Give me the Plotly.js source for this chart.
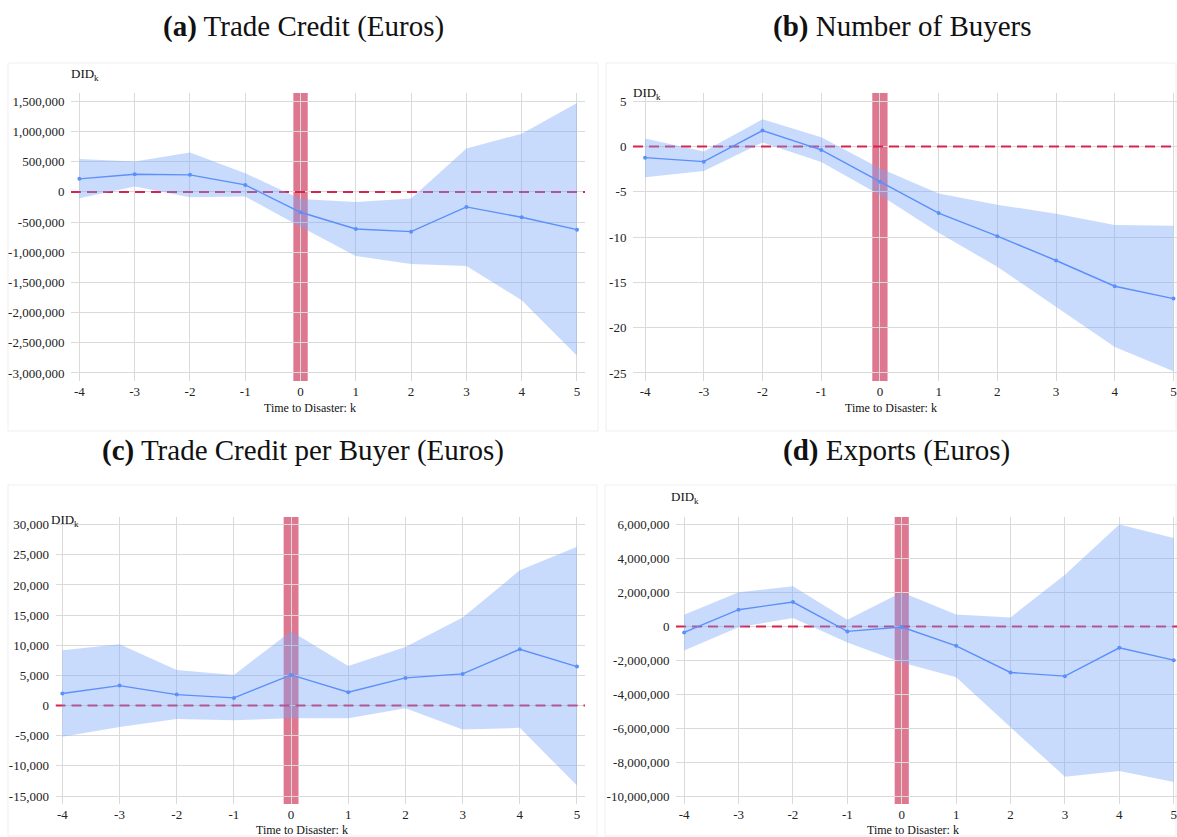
<!DOCTYPE html>
<html>
<head>
<meta charset="utf-8">
<script src="https://cdn.plot.ly/plotly-3.0.1.min.js"></script>
<style>html,body{margin:0;padding:0;background:#fff;}#chart{width:1177px;height:837px;}</style>
</head>
<body>
<div id="chart"></div>
<script>
// Event time
const k = [-4, -3, -2, -1, 0, 1, 2, 3, 4, 5];

// (a) Trade Credit (Euros)
const tcEst = [216000, 293000, 282000, 116000, -338000, -615000, -659000, -249000, -421000, -626000];
const tcLo  = [-105000, 89000, -89000, -78000, -576000, -1063000, -1196000, -1229000, -1794000, -2713000];
const tcHi  = [543000, 504000, 653000, 310000, -116000, -166000, -111000, 720000, 963000, 1473000];

// (b) Number of Buyers
const nbEst = [-1.22, -1.66, 1.77, -0.37, -3.87, -7.34, -9.89, -12.58, -15.42, -16.79];
const nbLo  = [-3.39, -2.69, 0.44, -1.70, -5.35, -9.52, -13.28, -17.71, -22.14, -24.80];
const nbHi  = [0.89, -0.55, 3.03, 1.03, -2.40, -5.17, -6.42, -7.42, -8.67, -8.75];

// (c) Trade Credit per Buyer (Euros)
const tcbEst = [1990, 3310, 1820, 1270, 5080, 2210, 4590, 5250, 9340, 6460];
const tcbLo  = [-5190, -3540, -2210, -2430, -2100, -2100, -440, -3980, -3700, -13260];
const tcbHi  = [9170, 10170, 5910, 5080, 12320, 6580, 9720, 14590, 22430, 26350];

// (d) Exports (Euros)
const exEst = [-354000, 984000, 1437000, -295000, -39000, -1142000, -2717000, -2933000, -1260000, -1988000];
const exLo  = [-1417000, -50000, 492000, -945000, -2126000, -2992000, -5945000, -8858000, -8524000, -9173000];
const exHi  = [689000, 2008000, 2362000, 394000, 2008000, 709000, 531000, 3051000, 6004000, 5217000];

// Tick values
const xTicks = [-4, -3, -2, -1, 0, 1, 2, 3, 4, 5];
const yTicksA = [-3000000, -2500000, -2000000, -1500000, -1000000, -500000, 0, 500000, 1000000, 1500000];
const yTicksB = [-25, -20, -15, -10, -5, 0, 5];
const yTicksC = [-15000, -10000, -5000, 0, 5000, 10000, 15000, 20000, 25000, 30000];
const yTicksD = [-10000000, -8000000, -6000000, -4000000, -2000000, 0, 2000000, 4000000, 6000000];

// Titles
const panelTitles = [
  "<b>(a)</b> Trade Credit (Euros)",
  "<b>(b)</b> Number of Buyers",
  "<b>(c)</b> Trade Credit per Buyer (Euros)",
  "<b>(d)</b> Exports (Euros)"
];
const xTitle = "Time to Disaster: k";
const yTitle = "DID<sub>k</sub>";

const FONT = "Liberation Serif, Times New Roman, serif";
const W = 1177, H = 837;
const px = v => v / W;
const py = v => 1 - v / H;
const fmt = v => v.toLocaleString('en-US');

const LINE = '#5b8ff9';
const BAND = 'rgba(120,165,250,0.4)';
const ZERO = 'rgb(214,36,78)';

const panels = [
  {est: tcEst, lo: tcLo, hi: tcHi, yt: yTicksA, xr: [-4.152, 5.145], yr: [-3133000, 1638000],
   dx: [71, 585], dy: [93, 381], title: [303, 27], did: [69, 74], xt: [310, 408]},
  {est: nbEst, lo: nbLo, hi: nbHi, yt: yTicksB, xr: [-4.206, 5.06], yr: [-25.89, 5.92],
   dx: [633, 1177], dy: [93, 381], title: [902, 27], did: [631, 93], xt: [891, 408]},
  {est: tcbEst, lo: tcbLo, hi: tcbHi, yt: yTicksC, xr: [-4.12, 5.14], yr: [-16326, 31270],
   dx: [55.5, 585], dy: [517, 804], title: [303, 450], did: [49, 520], xt: [302, 830]},
  {est: exEst, lo: exLo, hi: exHi, yt: yTicksD, xr: [-4.15, 5.06], yr: [-10470000, 6450000],
   dx: [676, 1177], dy: [517, 804], title: [896, 450], did: [669, 497], xt: [913, 830]}
];

const data = [];
const layout = {
  width: W, height: H,
  margin: {l: 0, r: 0, t: 0, b: 0},
  paper_bgcolor: '#fff', plot_bgcolor: '#fff',
  showlegend: false,
  font: {family: FONT, size: 13, color: '#222'},
  shapes: [], annotations: []
};

// panel frames
const frames = [[8, 598, 63, 431], [606, 1176, 63, 431], [8, 597, 485, 836], [605, 1176, 485, 836]];
frames.forEach(f => {
  layout.shapes.push({type: 'rect', xref: 'paper', yref: 'paper',
    x0: px(f[0]), x1: px(f[1]), y0: py(f[3]), y1: py(f[2]),
    line: {color: '#efefef', width: 1}, fillcolor: 'rgba(0,0,0,0)', layer: 'below'});
});

panels.forEach((p, i) => {
  const n = i === 0 ? '' : String(i + 1);
  const xa = 'x' + n, ya = 'y' + n;
  // dashed zero reference line across the full axis range
  data.push({x: p.xr, y: [0, 0], xaxis: xa, yaxis: ya, type: 'scatter', mode: 'lines',
    line: {color: ZERO, width: 2, dash: '10px,6px'}, hoverinfo: 'skip'});
  data.push({x: k, y: p.hi, xaxis: xa, yaxis: ya, type: 'scatter', mode: 'lines',
    line: {width: 0, color: BAND}, hoverinfo: 'skip'});
  data.push({x: k, y: p.lo, xaxis: xa, yaxis: ya, type: 'scatter', mode: 'lines',
    line: {width: 0, color: BAND}, fill: 'tonexty', fillcolor: BAND, hoverinfo: 'skip'});
  data.push({x: k, y: p.est, xaxis: xa, yaxis: ya, type: 'scatter', mode: 'lines+markers',
    line: {width: 1.4, color: LINE}, marker: {size: 4, color: LINE}, cliponaxis: false});

  layout['xaxis' + n] = {
    domain: [px(p.dx[0]), px(p.dx[1])], anchor: ya, range: p.xr,
    tickmode: 'array', tickvals: xTicks, ticktext: xTicks.map(String),
    showgrid: true, gridcolor: '#dadada', gridwidth: 1, zeroline: false,
    showline: false, ticks: '', ticklabelstandoff: 1,
    tickfont: {family: FONT, size: 13, color: '#222'}, fixedrange: true
  };
  layout['yaxis' + n] = {
    domain: [py(p.dy[1]), py(p.dy[0])], anchor: xa, range: p.yr,
    tickmode: 'array', tickvals: p.yt, ticktext: p.yt.map(fmt),
    showgrid: true, gridcolor: '#dadada', gridwidth: 1, zeroline: false,
    showline: false, ticks: 'outside', ticklen: 3, tickcolor: 'rgba(0,0,0,0)',
    tickfont: {family: FONT, size: 13, color: '#222'}, fixedrange: true
  };

  // red event bar at k = 0
  layout.shapes.push({type: 'rect', xref: xa, yref: ya + ' domain',
    x0: -0.13, x1: 0.13, y0: 0, y1: 1,
    fillcolor: 'rgba(200,30,70,0.6)', line: {width: 0}, layer: 'below'});

  layout.annotations.push({xref: 'paper', yref: 'paper', x: px(p.title[0]), y: py(p.title[1]),
    text: panelTitles[i], showarrow: false, xanchor: 'center', yanchor: 'middle',
    font: {family: FONT, size: 29, color: '#111'}});
  layout.annotations.push({xref: 'paper', yref: 'paper', x: px(p.did[0]), y: py(p.did[1]),
    text: yTitle, showarrow: false, xanchor: 'left', yanchor: 'middle',
    font: {family: FONT, size: 13, color: '#111'}});
  layout.annotations.push({xref: 'paper', yref: 'paper', x: px(p.xt[0]), y: py(p.xt[1]),
    text: xTitle, showarrow: false, xanchor: 'center', yanchor: 'middle',
    font: {family: FONT, size: 12, color: '#111'}});
});

Plotly.newPlot('chart', data, layout, {staticPlot: true, displayModeBar: false});
</script>
</body>
</html>
